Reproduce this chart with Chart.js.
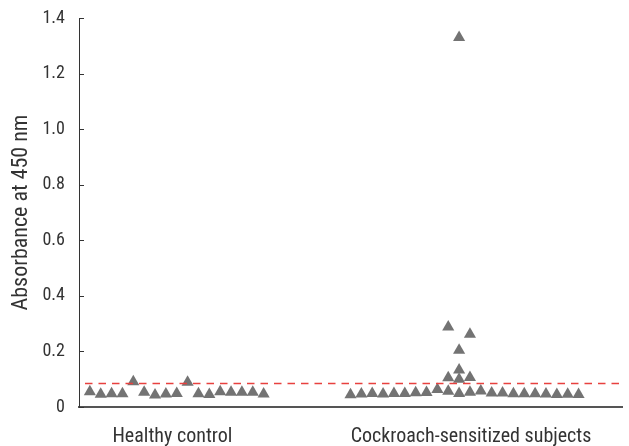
<!DOCTYPE html>
<html><head><meta charset="utf-8">
<script src="https://cdn.jsdelivr.net/npm/chart.js@4/dist/chart.umd.min.js"></script>
<style>html,body{margin:0;padding:0;background:#fff}#wrap{width:629px;height:446px}</style>
</head><body><div id="wrap"><canvas id="c" width="629" height="446"></canvas></div>
<script>
const categories = ["Healthy control", "Cockroach-sensitized subjects"];
const categoryPositions = [8.6, 36.1];
const healthyX = [1,2,3,4,5,6,7,8,9,10,11,12,13,14,15,16,17];
const healthyY = [0.055,0.046,0.048,0.048,0.091,0.053,0.043,0.047,0.049,0.089,0.048,0.045,0.055,0.053,0.053,0.053,0.047];
const sensX = [25,26,27,28,29,30,31,32,33,34,35,36,37,38,39,40,41,42,43,44,45,46, 34,34,35,35,35,35,36,36];
const sensY = [0.044,0.047,0.049,0.047,0.049,0.049,0.051,0.052,0.063,0.057,0.049,0.053,0.058,0.050,0.050,0.048,0.048,0.048,0.047,0.045,0.046,0.045, 0.288,0.105,1.33,0.204,0.133,0.100,0.262,0.106];
const cutoff = 0.085;
const yTicks = [0,0.2,0.4,0.6,0.8,1.0,1.2,1.4];
const yTickLabels = ["0","0.2","0.4","0.6","0.8","1.0","1.2","1.4"];

const FONT = "'Roboto Condensed', 'Liberation Sans', sans-serif";
const pts = (xs, ys) => xs.map((x,i)=>({x, y: ys[i]}));
const triStyle = {pointStyle:'triangle', pointRadius:7, pointBackgroundColor:'#737373', pointBorderColor:'#737373', pointBorderWidth:0, showLine:false};

const innerTicks = {
  id:'innerTicks',
  afterDraw(chart){
    const y = chart.scales.y, ctx = chart.ctx, left = chart.chartArea.left;
    ctx.save(); ctx.strokeStyle='#333'; ctx.lineWidth=1;
    yTicks.forEach(v=>{ const py=Math.round(y.getPixelForValue(v))+0.5; ctx.beginPath(); ctx.moveTo(left,py); ctx.lineTo(left+5,py); ctx.stroke(); });
    ctx.restore();
  }
};

new Chart(document.getElementById('c'), {
  type:'scatter',
  data:{datasets:[
    {label:'cutoff', data:[{x:0,y:cutoff},{x:50,y:cutoff}], showLine:true, pointRadius:0, borderColor:'#e8413f', borderWidth:1.5, borderDash:[7.5,6], borderDashOffset:-6},
    Object.assign({label:categories[0], data:pts(healthyX, healthyY)}, triStyle),
    Object.assign({label:categories[1], data:pts(sensX, sensY)}, triStyle)
  ]},
  options:{
    responsive:false, animation:false,
    layout:{padding:{top:18,right:0,left:0,bottom:0}},
    plugins:{legend:{display:false}, tooltip:{enabled:false}},
    scales:{
      x:{type:'linear', min:0, max:50,
        grid:{display:false},
        border:{display:true, color:'#555', width:2},
        afterBuildTicks(s){ s.ticks = categoryPositions.map(v=>({value:v})); },
        afterFit(s){ s.height = 39; s.paddingLeft = 0; s.paddingRight = 0; },
        ticks:{autoSkip:false, maxRotation:0, padding:10, color:'#333', font:{family:FONT, size:20},
          callback(v){ const i = categoryPositions.indexOf(v); return i>=0 ? categories[i] : ''; }}
      },
      y:{type:'linear', min:0, max:1.4,
        grid:{display:false},
        border:{display:true, color:'#333', width:1},
        afterBuildTicks(s){ s.ticks = yTicks.map(v=>({value:v})); },
        afterFit(s){ s.width = 79; s.paddingTop = 0; s.paddingBottom = 0; },
        title:{display:true, text:'Absorbance at 450 nm', color:'#333', font:{family:FONT, size:22}, padding:{top:8,bottom:0}},
        ticks:{padding:6, color:'#333', font:{family:FONT, size:18},
          callback(v){ const i = yTicks.indexOf(v); return i>=0 ? yTickLabels[i] : ''; }}
      }
    }
  },
  plugins:[innerTicks]
});
</script></body></html>
